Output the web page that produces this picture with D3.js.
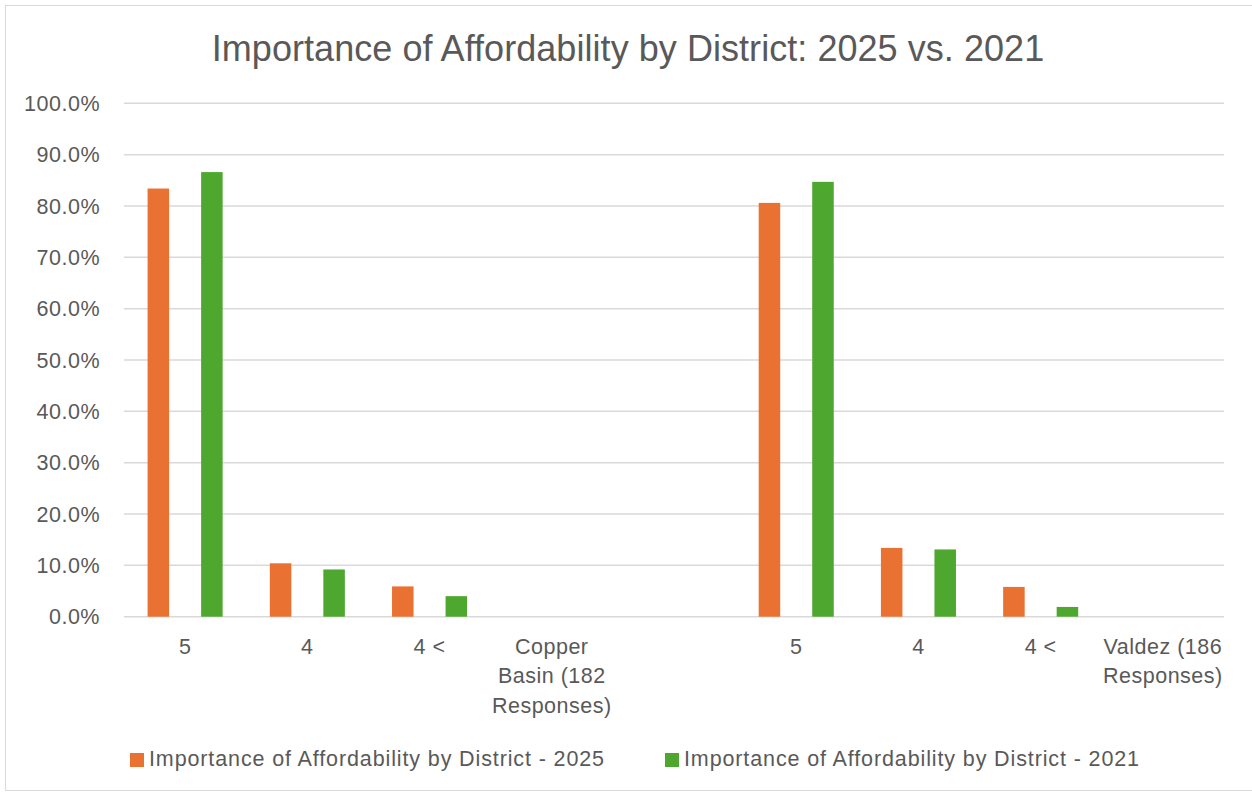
<!DOCTYPE html>
<html>
<head>
<meta charset="utf-8">
<script src="https://cdn.jsdelivr.net/npm/d3@7/dist/d3.min.js"></script>
<style>
  html, body { margin: 0; padding: 0; background: #ffffff; }
  svg { display: block; }
  text { font-family: "Liberation Sans", Arial, sans-serif; fill: #595959; }
</style>
</head>
<body>
<svg id="chart" width="1252" height="793"></svg>
<script>
// ---- data ----
const title = "Importance of Affordability by District: 2025 vs. 2021";
const categories = ["5", "4", "4 <", "Copper\nBasin (182\nResponses)", "", "5", "4", "4 <", "Valdez (186\nResponses)"];
const seriesNames = ["Importance of Affordability by District - 2025", "Importance of Affordability by District - 2021"];
const values2025 = [0.834, 0.104, 0.059, null, null, 0.806, 0.134, 0.058, null];
const values2021 = [0.866, 0.092, 0.040, null, null, 0.847, 0.131, 0.019, null];
const yTicks = [0, 0.1, 0.2, 0.3, 0.4, 0.5, 0.6, 0.7, 0.8, 0.9, 1.0];
const colors = ["#E97132", "#4EA72E"];

// ---- layout ----
const W = 1252, H = 793;
const plot = { left: 124, right: 1224, top: 103.3, bottom: 616.7 };
const svg = d3.select("#chart");

// border
svg.append("rect").attr("x", 5.5).attr("y", 5.5).attr("width", W + 10).attr("height", H - 8)
  .attr("fill", "none").attr("stroke", "#d9d9d9").attr("stroke-width", 1);

const x = d3.scaleBand().domain(d3.range(categories.length)).range([plot.left, plot.right]).padding(0);
const step = x.step();
const groupW = step * 0.614;
const x1 = d3.scaleBand().domain([0, 1]).range([step / 2 - groupW / 2, step / 2 + groupW / 2]).paddingInner(0.598).paddingOuter(0);
const y = d3.scaleLinear().domain([0, 1]).range([plot.bottom, plot.top]);

const FS = 21.5, LS = "0.5px";

// gridlines
svg.append("g").selectAll("line").data(yTicks).join("line")
  .attr("x1", plot.left).attr("x2", plot.right)
  .attr("y1", d => y(d)).attr("y2", d => y(d))
  .attr("stroke", "#d9d9d9").attr("stroke-width", 1.5);

// y labels
const fmt = d3.format(".1%");
svg.append("g").selectAll("text").data(yTicks).join("text")
  .attr("x", 100).attr("y", d => y(d)).attr("dy", "0.36em")
  .attr("text-anchor", "end").attr("font-size", FS).attr("letter-spacing", LS)
  .text(d => fmt(d));

// bars
const seriesData = [values2025, values2021];
seriesData.forEach((vals, si) => {
  svg.append("g").selectAll("rect").data(vals.map((v, i) => ({ v, i })).filter(d => d.v != null)).join("rect")
    .attr("x", d => x(d.i) + x1(si))
    .attr("width", x1.bandwidth())
    .attr("y", d => y(d.v))
    .attr("height", d => y(0) - y(d.v))
    .attr("fill", colors[si]);
});

// x labels
const xl = svg.append("g");
categories.forEach((c, i) => {
  const lines = c.split("\n");
  const t = xl.append("text").attr("text-anchor", "middle").attr("font-size", FS).attr("letter-spacing", LS)
    .attr("x", x(i) + step / 2).attr("y", 654);
  lines.forEach((ln, k) => {
    t.append("tspan").attr("x", x(i) + step / 2).attr("y", 654 + k * 29.3).text(ln);
  });
});

// title
svg.append("text").attr("x", 628).attr("y", 61).attr("text-anchor", "middle")
  .attr("font-size", 36).attr("letter-spacing", "0.05px").text(title);

// legend
const legX = [130, 665];
seriesNames.forEach((n, i) => {
  svg.append("rect").attr("x", legX[i]).attr("y", 753).attr("width", 14).attr("height", 14).attr("fill", colors[i]);
  svg.append("text").attr("x", legX[i] + 19).attr("y", 766).attr("font-size", FS).attr("letter-spacing", "0.88px").text(n);
});
</script>
</body>
</html>
